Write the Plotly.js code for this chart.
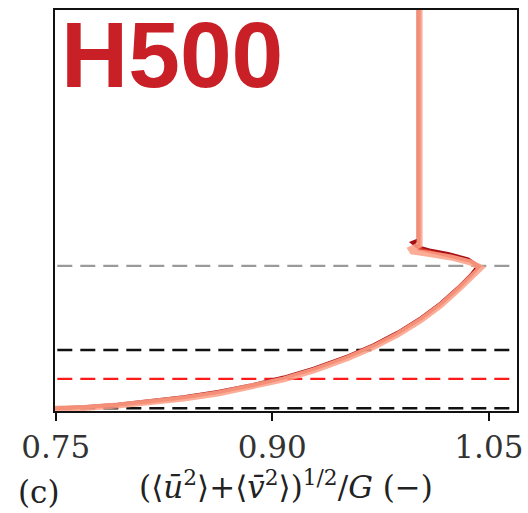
<!DOCTYPE html>
<html>
<head>
<meta charset="utf-8">
<script src="https://cdn.plot.ly/plotly-3.0.1.min.js"></script>
<style>html,body{margin:0;padding:0;background:#fff;}#chart{width:528px;height:513px;}</style>
</head>
<body>
<div id="chart"></div>
<script>
// Heights (arbitrary units, axis 0-1000) and normalized wind speed for three runs
const zLight = [0, 5, 7.5, 13.5, 21, 31, 43.6, 59.4, 79, 101.5, 132, 160, 191, 227, 264, 302, 334, 357, 370, 383, 392, 398, 404, 414, 1000];
const uLight = [0.70, 0.7514, 0.7694, 0.793, 0.8158, 0.8387, 0.8623, 0.8851, 0.908, 0.9288, 0.9524, 0.9704, 0.987, 1.003, 1.0168, 1.0286, 1.0376, 1.0445, 1.0376, 1.0237, 1.008, 0.997, 0.996, 1.002, 1.002];

const zMid = [0, 6, 9, 15, 23, 33, 46, 62, 82, 104, 135, 163, 194, 230, 267, 305, 337, 360, 374, 386, 396, 404, 1000];
const uMid = [0.70, 0.7514, 0.7694, 0.793, 0.8158, 0.8387, 0.8623, 0.8851, 0.908, 0.9288, 0.9524, 0.9704, 0.987, 1.003, 1.0168, 1.0286, 1.0376, 1.0435, 1.0366, 1.0227, 1.0099, 1.0016, 1.0016];

const zDark = [0, 7, 10, 16, 25, 35, 48, 64, 84, 106, 137, 165, 196, 232, 269, 307, 339, 362, 379, 392, 401, 409, 420, 426, 1000];
const uDark = [0.70, 0.7514, 0.7694, 0.793, 0.8158, 0.8387, 0.8623, 0.8851, 0.908, 0.9288, 0.9524, 0.9704, 0.987, 1.003, 1.0168, 1.0286, 1.0376, 1.0425, 1.0356, 1.0217, 1.0089, 1.0006, 0.997, 1.0012, 1.0012];

// Reference heights (dashed lines)
const refZ = [362, 152, 80, 7];
const refColor = ['#9a9a9a', '#111111', '#ff1a1a', '#111111'];

const xTicks = [0.75, 0.90, 1.05];
const xTickText = ['0.75', '0.90', '1.05'];

const serif = 'DejaVu Serif, Liberation Serif, serif';

const traces = [
  {x: uDark, y: zDark, mode: 'lines', line: {color: '#a50f15', width: 3.5}},
  {x: uMid, y: zMid, mode: 'lines', line: {color: '#de3b2b', width: 3}},
  {x: uLight, y: zLight, mode: 'lines', line: {color: '#fa9f85', width: 6}, opacity: 0.85}
];

const shapes = refZ.map((z, i) => ({
  type: 'line', xref: 'paper', yref: 'y', x0: 0.005, x1: 0.99, y0: z, y1: z,
  line: {color: refColor[i], width: 2.4, dash: '15px,8px'}, layer: 'below'
}));

const layout = {
  width: 528, height: 513,
  margin: {l: 55, r: 11, t: 10, b: 102},
  paper_bgcolor: '#fff', plot_bgcolor: '#fff',
  showlegend: false,
  font: {family: serif, color: '#222'},
  xaxis: {
    range: [0.7495, 1.0695], tickvals: xTicks, ticktext: xTickText,
    ticks: 'outside', ticklen: 8, tickwidth: 2, tickcolor: '#111',
    showline: true, linecolor: '#111', linewidth: 2, mirror: true,
    showgrid: false, zeroline: false,
    tickfont: {family: serif, size: 31, color: '#333'},
    title: {text: '(⟨<i>u\u0304</i><sup>2</sup>⟩+⟨<i>v\u0304</i><sup>2</sup>⟩)<sup>1/2</sup>/<i>G</i> (−)',
            font: {family: serif, size: 31, color: '#222'}, standoff: 10}
  },
  yaxis: {
    range: [0, 1000], showticklabels: false, ticks: '',
    showline: true, linecolor: '#111', linewidth: 2, mirror: true,
    showgrid: false, zeroline: false
  },
  shapes: shapes,
  annotations: [
    {text: '<b>H500</b>', xref: 'paper', yref: 'paper', x: 0.008, y: 1.022, xanchor: 'left', yanchor: 'top',
     showarrow: false, font: {family: 'Liberation Sans', size: 93, color: '#c91f26'}},
    {text: '(c)', xref: 'paper', yref: 'paper', x: -0.085, y: -0.152, xanchor: 'left', yanchor: 'top',
     showarrow: false, font: {family: serif, size: 31, color: '#222'}}
  ]
};

Plotly.newPlot('chart', traces, layout, {displayModeBar: false, staticPlot: true});
</script>
</body>
</html>
